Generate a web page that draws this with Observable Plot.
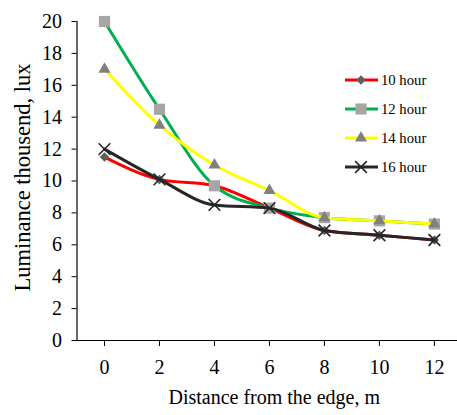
<!DOCTYPE html>
<html>
<head>
<meta charset="utf-8">
<script src="https://cdn.jsdelivr.net/npm/d3@7"></script>
<script src="https://cdn.jsdelivr.net/npm/@observablehq/plot@0.6"></script>
<style>
  html, body { margin: 0; padding: 0; background: #fff; }
  #wrap { position: relative; width: 457px; height: 415px; font-family: "Liberation Serif", "Times New Roman", Times, serif; }
  #wrap svg { position: absolute; left: 0; top: 0; }
  #wrap text { font-family: "Liberation Serif", "Times New Roman", Times, serif; }
</style>
</head>
<body>
<div id="wrap"></div>
<script>
// Distance from the edge (m)
const distances = [0, 2, 4, 6, 8, 10, 12];
// Luminance, thousand lux, per hour of day
const hour10 = [11.5, 10.1, 9.7, 8.3, 6.9, 6.6, 6.3];
const hour12 = [20.0, 14.5, 9.7, 8.3, 7.7, 7.5, 7.3];
const hour14 = [17.0, 13.5, 11.0, 9.4, 7.7, 7.5, 7.3];
const hour16 = [12.0, 10.1, 8.5, 8.3, 6.9, 6.6, 6.3];
const yTicks = [0, 2, 4, 6, 8, 10, 12, 14, 16, 18, 20];

const seriesDefs = [
  {name: "10 hour", values: hour10, line: "#ff0000", symbol: "diamond2", fill: "#5f5f5f", stroke: "none", r: 4.3},
  {name: "12 hour", values: hour12, line: "#00b050", symbol: "square", fill: "#a6a6a6", stroke: "none", r: 6.3},
  {name: "14 hour", values: hour14, line: "#ffff00", symbol: "triangle", fill: "#808080", stroke: "none", r: 4.5},
  {name: "16 hour", values: hour16, line: "#262626", symbol: "times", fill: "none", stroke: "#262626", r: 5.4}
];

const rows = s => distances.map((d, i) => ({x: d, y: s.values[i]}));
const font = "Liberation Serif, Times New Roman, serif";

const marks = [];
for (const s of seriesDefs) {
  marks.push(Plot.line(rows(s), {x: "x", y: "y", stroke: s.line, strokeWidth: 3, curve: "monotone-x"}));
  marks.push(Plot.dot(rows(s), {x: "x", y: "y", symbol: () => s.symbol, fill: s.fill, stroke: s.stroke, strokeWidth: 1.6, r: s.r}));
}

const xDomain = [-1, 12.84];

const chart = Plot.plot({
  width: 457,
  height: 415,
  marginTop: 21,
  marginBottom: 75,
  marginLeft: 76.5,
  marginRight: 0,
  style: {fontFamily: font, fontSize: "20px", color: "#000", background: "transparent"},
  x: {domain: xDomain},
  y: {domain: [0, 20]},
  marks: [
    Plot.axisY({ticks: yTicks, tickSize: 5, tickPadding: 10, label: null, stroke: "#000"}),
    Plot.axisX({ticks: distances, tickSize: 6, tickPadding: 13, label: null, stroke: "#000"}),
    Plot.ruleX([xDomain[0]], {stroke: "#000", strokeWidth: 1.2}),
    Plot.ruleY([0], {stroke: "#000", strokeWidth: 1.2}),
    ...marks,
    Plot.text(["Distance from the edge, m"], {frameAnchor: "bottom", dx: 7, dy: 63, fontSize: 20, fill: "#000"}),
    Plot.text(["Luminance thousend, lux"], {frameAnchor: "left", textAnchor: "middle", dx: -54, dy: -3.5, rotate: -90, fontSize: 22.5, fill: "#000"})
  ]
});
document.getElementById("wrap").appendChild(chart);

// Legend drawn as an overlay in the upper right of the plot area
const legend = d3.select("#wrap").append("svg")
  .attr("width", 457).attr("height", 415)
  .style("pointer-events", "none");
const symbolMap = {diamond2: d3.symbolDiamond2, square: d3.symbolSquare, triangle: d3.symbolTriangle, times: d3.symbolTimes};
const rowY = [80, 109, 138, 167];
seriesDefs.forEach((s, i) => {
  const g = legend.append("g").attr("transform", `translate(0,${rowY[i]})`);
  g.append("line").attr("x1", 345).attr("x2", 378).attr("y1", 0).attr("y2", 0)
    .attr("stroke", s.line).attr("stroke-width", 3);
  g.append("path")
    .attr("d", d3.symbol(symbolMap[s.symbol], Math.PI * s.r * s.r)())
    .attr("transform", "translate(361,0)")
    .attr("fill", s.fill).attr("stroke", s.stroke).attr("stroke-width", 1.6);
  g.append("text").attr("x", 381).attr("y", 0).attr("dy", "0.35em")
    .attr("font-size", 14.7).attr("fill", "#000")
    .text(s.name);
});
</script>
</body>
</html>
